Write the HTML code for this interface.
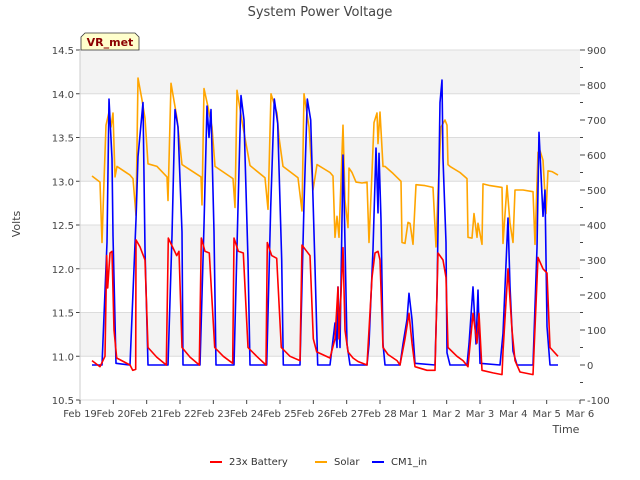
<!DOCTYPE html>
<html><head><meta charset="utf-8"><style>
body{margin:0;background:#fff;}
svg{display:block;font-family:"DejaVu Sans","Liberation Sans",sans-serif;}
</style></head><body>
<svg id="chart" width="640" height="480" xmlns="http://www.w3.org/2000/svg">
<text x="320" y="16" text-anchor="middle" font-size="13" fill="#444">System Power Voltage</text>
<g id="bands"></g>
<g id="grid"></g>
<g id="series"></g>
<g id="axes"></g>
<text x="20" y="224" text-anchor="middle" font-size="11" fill="#444" transform="rotate(-90 20 224)">Volts</text>
<text x="566" y="433" text-anchor="middle" font-size="11" fill="#444">Time</text>
<g>
<path d="M81,50 L81,37 L85,33 L135,33 L139,37 L139,50 Z" fill="#ffffcc" stroke="#333" stroke-width="0.8"/>
<text x="110" y="46" text-anchor="middle" font-size="11" font-weight="bold" fill="#8b0000">VR_met</text>
</g>
<g>
<g><line x1="210" y1="462" x2="222" y2="462" stroke="red" stroke-width="2"/><text x="229" y="465" font-size="10" fill="#333">23x Battery</text></g>
<g><line x1="315" y1="462" x2="327" y2="462" stroke="orange" stroke-width="2"/><text x="334" y="465" font-size="10" fill="#333">Solar</text></g>
<g><line x1="372" y1="462" x2="384" y2="462" stroke="blue" stroke-width="2"/><text x="391" y="465" font-size="10" fill="#333">CM1_in</text></g>
</g>
</svg>
<script>
const xLabels=["Feb 19","Feb 20","Feb 21","Feb 22","Feb 23","Feb 24","Feb 25","Feb 26","Feb 27","Feb 28","Mar 1","Mar 2","Mar 3","Mar 4","Mar 5","Mar 6"];
const leftTicks=[10.5,11.0,11.5,12.0,12.5,13.0,13.5,14.0,14.5];
const rightTicks=[-100,0,100,200,300,400,500,600,700,800,900];
const batteryT=[0.36,0.6,0.75,0.8,0.83,0.9,0.96,1.02,1.1,1.5,1.58,1.67,1.68,1.8,1.95,2.04,2.3,2.59,2.65,2.9,2.97,3.06,3.3,3.58,3.64,3.75,3.88,4.04,4.3,4.58,4.62,4.75,4.9,5.04,5.3,5.58,5.62,5.75,5.9,6.04,6.3,6.6,6.66,6.8,6.9,7.0,7.1,7.5,7.65,7.74,7.77,7.89,7.95,8.04,8.19,8.34,8.61,8.76,8.85,8.94,9.0,9.09,9.24,9.51,9.6,9.75,9.87,9.96,10.05,10.41,10.65,10.74,10.89,10.98,11.04,11.31,11.49,11.64,11.79,11.91,11.97,12.06,12.39,12.66,12.69,12.84,12.96,13.05,13.2,13.59,13.74,13.89,14.01,14.1,14.34];
const batteryV=[10.95,10.88,11.0,12.15,11.78,12.18,12.2,11.3,10.98,10.9,10.84,10.85,12.33,12.25,12.1,11.1,10.99,10.9,12.35,12.15,12.2,11.1,10.99,10.9,12.35,12.2,12.18,11.1,11.0,10.92,12.35,12.2,12.18,11.1,11.0,10.9,12.3,12.15,12.12,11.1,11.0,10.95,12.27,12.2,12.15,11.2,11.05,10.98,11.2,11.79,11.2,12.24,11.3,11.05,10.98,10.94,10.9,11.9,12.18,12.2,12.1,11.1,11.02,10.95,10.9,11.2,11.49,11.15,10.88,10.84,10.84,12.18,12.1,11.9,11.1,11.0,10.95,10.88,11.49,11.15,11.49,10.84,10.81,10.79,11.05,12.0,11.3,10.95,10.82,10.79,12.13,12.0,11.95,11.1,11.0];
const solarT=[0.36,0.6,0.66,0.72,0.78,0.87,0.93,0.99,1.05,1.11,1.5,1.59,1.68,1.74,1.86,1.95,2.04,2.31,2.61,2.64,2.73,2.91,3.06,3.63,3.66,3.72,3.84,3.96,4.05,4.59,4.65,4.71,4.89,5.1,5.55,5.64,5.73,5.91,5.97,6.09,6.54,6.66,6.72,6.87,6.99,7.11,7.5,7.59,7.65,7.71,7.77,7.89,7.95,8.04,8.07,8.16,8.28,8.46,8.61,8.67,8.76,8.82,8.91,8.94,9.0,9.09,9.15,9.39,9.63,9.66,9.75,9.84,9.9,9.99,10.08,10.35,10.59,10.68,10.74,10.83,10.95,11.01,11.04,11.1,11.4,11.61,11.64,11.76,11.82,11.91,11.94,12.06,12.09,12.3,12.66,12.69,12.81,12.9,12.99,13.05,13.29,13.59,13.65,13.74,13.8,13.89,13.98,14.04,14.16,14.34];
const solarV=[13.06,12.99,12.3,13.0,13.64,13.79,13.62,13.78,13.05,13.17,13.07,13.03,12.61,14.18,13.93,13.72,13.2,13.17,13.05,12.78,14.12,13.72,13.19,13.05,12.73,14.06,13.85,13.62,13.17,13.03,12.7,14.04,13.62,13.18,13.04,12.68,14.0,13.78,13.5,13.17,13.04,12.66,14.0,13.62,12.9,13.19,13.1,13.06,12.36,12.6,12.36,13.64,12.78,12.47,13.15,13.1,12.99,12.98,12.99,12.3,13.1,13.67,13.78,13.43,13.79,13.17,13.17,13.09,13.0,12.3,12.29,12.53,12.52,12.28,12.96,12.95,12.93,12.25,12.87,13.62,13.7,13.64,13.19,13.17,13.1,13.03,12.36,12.35,12.63,12.36,12.52,12.28,12.97,12.95,12.93,12.29,12.95,12.52,12.3,12.9,12.9,12.88,12.28,13.33,13.35,13.24,12.63,13.12,13.11,13.07];
const cm1T=[0.36,0.66,0.81,0.87,0.96,0.99,1.08,1.5,1.68,1.74,1.89,1.95,2.04,2.64,2.76,2.85,2.94,3.06,3.09,3.6,3.72,3.81,3.87,3.93,4.02,4.08,4.62,4.74,4.83,4.92,5.04,5.1,5.6,5.72,5.83,5.93,6.05,6.1,6.6,6.72,6.82,6.92,7.05,7.13,7.4,7.5,7.65,7.71,7.74,7.8,7.89,7.92,8.01,8.1,8.61,8.67,8.79,8.88,8.94,8.97,9.03,9.09,9.15,9.6,9.69,9.81,9.87,9.96,10.05,10.65,10.71,10.8,10.86,10.89,10.98,11.01,11.1,11.61,11.67,11.79,11.88,11.94,12.0,12.6,12.69,12.84,12.9,12.99,13.11,13.59,13.71,13.77,13.89,13.95,14.01,14.1,14.34];
const cm1V=[0,0,350,760,590,370,5,0,415,595,750,330,0,0,370,730,680,380,0,0,400,740,650,730,380,0,0,450,770,700,300,0,0,450,760,690,300,0,0,460,760,700,280,0,0,0,120,50,223,50,600,490,60,0,0,60,330,620,435,605,415,60,0,0,60,130,205,130,5,0,205,750,814,590,350,35,0,0,60,223,60,214,5,0,90,420,225,40,0,0,335,665,425,500,110,0,0];
const NS="http://www.w3.org/2000/svg";
const L=80,R=580,T=50,B=400;
const xS=d=>L+d*(R-L)/15;
const yL=v=>B-(v-10.5)*(B-T)/4;
const yR=v=>B-(v+100)*(B-T)/1000;
function mk(tag,attrs,parent){const e=document.createElementNS(NS,tag);for(const k in attrs)e.setAttribute(k,attrs[k]);parent.appendChild(e);return e;}
const bands=document.getElementById('bands'),grid=document.getElementById('grid'),axes=document.getElementById('axes'),series=document.getElementById('series');
mk('rect',{x:L,y:T,width:R-L,height:B-T,fill:'#fff'},bands);
for(let i=0;i<leftTicks.length-1;i++){
  if(i%2===1){const r=mk('rect',{x:L,y:yL(leftTicks[i+1]),width:R-L,height:yL(leftTicks[i])-yL(leftTicks[i+1]),fill:'#f3f3f3'},bands);
  
  }
}
leftTicks.forEach(v=>{
  const y=yL(v);
  const g=mk('line',{x1:L,x2:R,y1:y,y2:y,stroke:'#dcdcdc','stroke-width':1},grid);
  
  
  mk('line',{x1:L-4,x2:L,y1:y,y2:y,stroke:'#444'},axes);
  const t=mk('text',{x:L-6,y:y+4,'text-anchor':'end','font-size':10,fill:'#444'},axes);
  t.textContent=v.toFixed(1);
  
  
});
for(let v=-100;v<=900;v+=50){
  const y=yR(v);
  mk('line',{x1:R,x2:R+(v%100===0?5:3),y1:y,y2:y,stroke:'#444'},axes);
}
rightTicks.forEach(v=>{
  const t=mk('text',{x:R+7,y:yR(v)+4,'font-size':10,fill:'#444'},axes);
  t.textContent=v;
  
  
});
xLabels.forEach((s,i)=>{
  const x=xS(i);
  mk('line',{x1:x,x2:x,y1:B,y2:B+4,stroke:'#444'},axes);
  const t=mk('text',{x:x,y:B+17,'text-anchor':'middle','font-size':10,fill:'#444'},axes);
  t.textContent=s;
  
  
});
mk('line',{x1:L,x2:L,y1:T,y2:B,stroke:'#ccc'},axes);
function line(ts,vs,ys,color,name){
  const p=ts.map((t,i)=>(i?'L':'M')+xS(t).toFixed(1)+','+ys(vs[i]).toFixed(1)).join('');
  const e=mk('path',{d:p,fill:'none',stroke:color,'stroke-width':1.6,'stroke-linejoin':'round'},series);
  
  
}
line(solarT,solarV,yL,'orange','solar-line');
line(cm1T,cm1V,yR,'blue','cm1-line');
line(batteryT,batteryV,yL,'red','battery-line');
</script>
</body></html>
